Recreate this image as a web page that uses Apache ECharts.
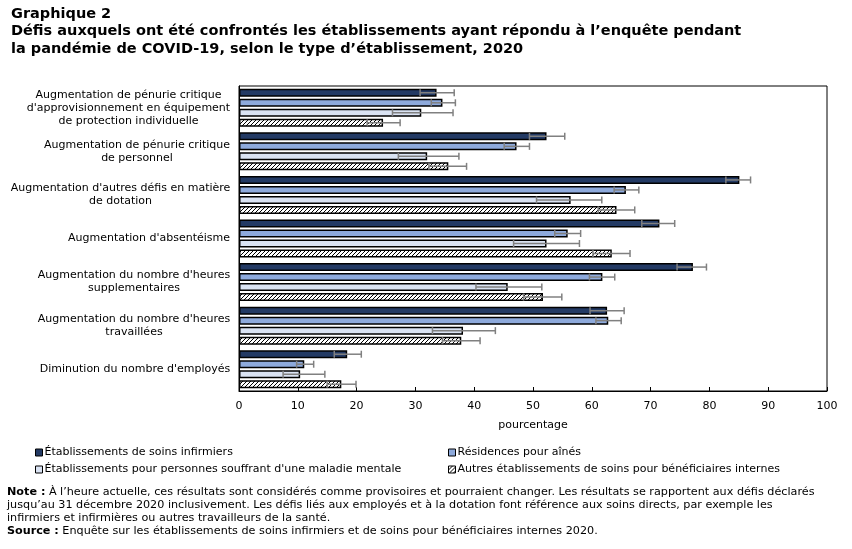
<!DOCTYPE html>
<html>
<head>
<meta charset="utf-8">
<script src="https://cdn.jsdelivr.net/npm/echarts@6/dist/echarts.min.js"></script>
<style>
  html, body { margin: 0; padding: 0; background: #fff; }
</style>
</head>
<body>
<div id="chart" style="width:852px;height:549px;"></div>
<script>
// catégories (axe vertical, de haut en bas)
var categories = [
  "Augmentation de pénurie critique\nd'approvisionnement en équipement\nde protection individuelle",
  "Augmentation de pénurie critique\nde personnel",
  "Augmentation d'autres défis en matière\nde dotation",
  "Augmentation d'absentéisme",
  "Augmentation du nombre d'heures\nsupplementaires",
  "Augmentation du nombre d'heures\ntravaillées",
  "Diminution du nombre d'employés"
]
var seriesNames = [
  'Établissements de soins infirmiers',
  'Résidences pour aînés',
  "Établissements pour personnes souffrant d'une maladie mentale",
  'Autres établissements de soins pour bénéficiaires internes'
]
// pourcentages
var soinsInfirmiers = [33.6, 52.3, 85.1, 71.5, 77.2, 62.6, 18.4]
var residencesAines = [34.6, 47.2, 65.8, 55.9, 61.8, 62.8, 11.1]
var santeMentale = [31.0, 32.0, 56.4, 52.3, 45.7, 38.1, 10.4]
var autresEtab = [24.5, 35.6, 64.2, 63.4, 51.7, 37.8, 17.4]
// intervalles de confiance (bas / haut)
var soinsInfirmiersBas = [30.8, 49.4, 82.8, 68.5, 74.5, 59.7, 16.2]
var soinsInfirmiersHaut = [36.6, 55.4, 87.0, 74.1, 79.5, 65.5, 20.8]
var residencesAinesBas = [32.7, 45.1, 63.8, 53.7, 59.6, 60.7, 9.8]
var residencesAinesHaut = [36.8, 49.4, 68.0, 58.1, 63.9, 65.0, 12.7]
var santeMentaleBas = [26.1, 27.1, 50.6, 46.7, 40.3, 32.9, 7.5]
var santeMentaleHaut = [36.4, 37.4, 61.7, 57.9, 51.5, 43.6, 14.6]
var autresEtabBas = [21.8, 32.3, 61.1, 60.2, 48.4, 34.6, 15.0]
var autresEtabHaut = [27.4, 38.7, 67.3, 66.5, 54.9, 41.0, 19.9]

var values = [soinsInfirmiers, residencesAines, santeMentale, autresEtab]
var lows = [soinsInfirmiersBas, residencesAinesBas, santeMentaleBas, autresEtabBas]
var highs = [soinsInfirmiersHaut, residencesAinesHaut, santeMentaleHaut, autresEtabHaut]

var FONT = '"DejaVu Sans", Verdana, sans-serif'
var BAR_W = 8
var BAR_GAP = 2

// motif hachuré
var hatch = document.createElement('canvas')
hatch.width = 4
hatch.height = 4
var hctx = hatch.getContext('2d')
hctx.fillStyle = '#fff'
hctx.fillRect(0, 0, 4, 4)
hctx.strokeStyle = '#000'
hctx.lineWidth = 1
hctx.beginPath()
hctx.moveTo(0, 4); hctx.lineTo(4, 0)
hctx.moveTo(-1, 1); hctx.lineTo(1, -1)
hctx.moveTo(3, 5); hctx.lineTo(5, 3)
hctx.stroke()

var colors = ['#233a64', '#8eaadc', '#dae3f3', { image: hatch, repeat: 'repeat' }]

// largeur de chaque étiquette pour centrer les lignes dans le bloc
var mctx = document.createElement('canvas').getContext('2d')
mctx.font = '11px ' + FONT
var rich = {}
categories.forEach(function (c, i) {
  var w = 0
  c.split('\n').forEach(function (l) { w = Math.max(w, mctx.measureText(l).width) })
  rich['c' + i] = { width: Math.ceil(w) + 1, align: 'center', fontSize: 11, lineHeight: 13, color: '#000', fontFamily: FONT }
})

var chart = echarts.init(document.getElementById('chart'))

var series = []
values.forEach(function (v, s) {
  series.push({
    name: seriesNames[s],
    type: 'bar',
    data: v,
    barWidth: BAR_W,
    barGap: (BAR_GAP / BAR_W * 100) + '%',
    itemStyle: { color: colors[s], borderColor: '#000', borderWidth: 1.5 },
    emphasis: { disabled: true }
  })
})
values.forEach(function (v, s) {
  var d = []
  for (var i = 0; i < categories.length; i++) d.push([i, lows[s][i], highs[s][i]])
  series.push({
    type: 'custom',
    name: 'err' + s,
    data: d,
    encode: { y: 0, x: [1, 2] },
    z: 5,
    silent: true,
    renderItem: function (params, api) {
      var cat = api.value(0)
      var p1 = api.coord([api.value(1), cat])
      var p2 = api.coord([api.value(2), cat])
      var off = -(4 * BAR_W + 3 * BAR_GAP) / 2 + s * (BAR_W + BAR_GAP) + BAR_W / 2
      var y = p1[1] + off
      var st = { stroke: '#808080', lineWidth: 1.5 }
      return {
        type: 'group',
        children: [
          { type: 'line', shape: { x1: p1[0], y1: y, x2: p2[0], y2: y }, style: st },
          { type: 'line', shape: { x1: p1[0], y1: y - 3.5, x2: p1[0], y2: y + 3.5 }, style: st },
          { type: 'line', shape: { x1: p2[0], y1: y - 3.5, x2: p2[0], y2: y + 3.5 }, style: st }
        ]
      }
    }
  })
})

var legendPos = [[30, 442], [443, 442], [30, 459], [443, 459]]
var legends = seriesNames.map(function (n, i) {
  return {
    data: [n],
    left: legendPos[i][0],
    top: legendPos[i][1],
    icon: 'rect',
    itemWidth: 7,
    itemHeight: 7,
    selectedMode: false,
    itemStyle: { borderColor: '#000', borderWidth: 1 },
    textStyle: { fontSize: 11, color: '#000', fontFamily: FONT, padding: [0, 0, 0, -3] }
  }
})

var option = {
  animation: false,
  textStyle: { fontFamily: FONT },
  title: {
    text: 'Graphique 2\nDéfis auxquels ont été confrontés les établissements ayant répondu à l’enquête pendant\nla pandémie de COVID-19, selon le type d’établissement, 2020',
    left: 6,
    top: 0,
    textStyle: { fontSize: 14.5, fontWeight: 'bold', color: '#000', lineHeight: 17.5, fontFamily: FONT }
  },
  legend: legends,
  grid: { left: 239, right: 25, top: 86, bottom: 158, show: true, borderColor: '#000', borderWidth: 1, containLabel: false },
  xAxis: {
    type: 'value',
    min: 0,
    max: 100,
    interval: 10,
    name: 'pourcentage',
    nameLocation: 'middle',
    nameGap: 29,
    nameTextStyle: { fontSize: 11, color: '#000', fontFamily: FONT },
    axisLine: { show: true, lineStyle: { color: '#000' } },
    axisTick: { show: true, inside: true, length: 4, lineStyle: { color: '#000' } },
    axisLabel: { fontSize: 11, color: '#000', margin: 10, fontFamily: FONT },
    splitLine: { show: false }
  },
  yAxis: {
    type: 'category',
    data: categories,
    inverse: true,
    axisLine: { show: true, lineStyle: { color: '#000' } },
    axisTick: { show: false },
    axisLabel: {
      margin: 8,
      align: 'right',
      formatter: function (value, index) {
        return value.split('\n').map(function (l) { return '{c' + index + '|' + l + '}' }).join('\n')
      },
      rich: rich
    }
  },
  graphic: [{
    type: 'text',
    left: 7,
    top: 485,
    style: {
      text: '{b|Note :} À l’heure actuelle, ces résultats sont considérés comme provisoires et pourraient changer. Les résultats se rapportent aux défis déclarés\njusqu’au 31 décembre 2020 inclusivement. Les défis liés aux employés et à la dotation font référence aux soins directs, par exemple les\ninfirmiers et infirmières ou autres travailleurs de la santé.\n{b|Source :} Enquête sur les établissements de soins infirmiers et de soins pour bénéficiaires internes 2020.',
      fontSize: 11.2,
      lineHeight: 13.3,
      fill: '#000',
      fontFamily: FONT,
      rich: { b: { fontWeight: 'bold', fontSize: 11.2, lineHeight: 13.3, fontFamily: FONT } }
    }
  }],
  series: series
}
chart.setOption(option)
</script>
</body>
</html>
